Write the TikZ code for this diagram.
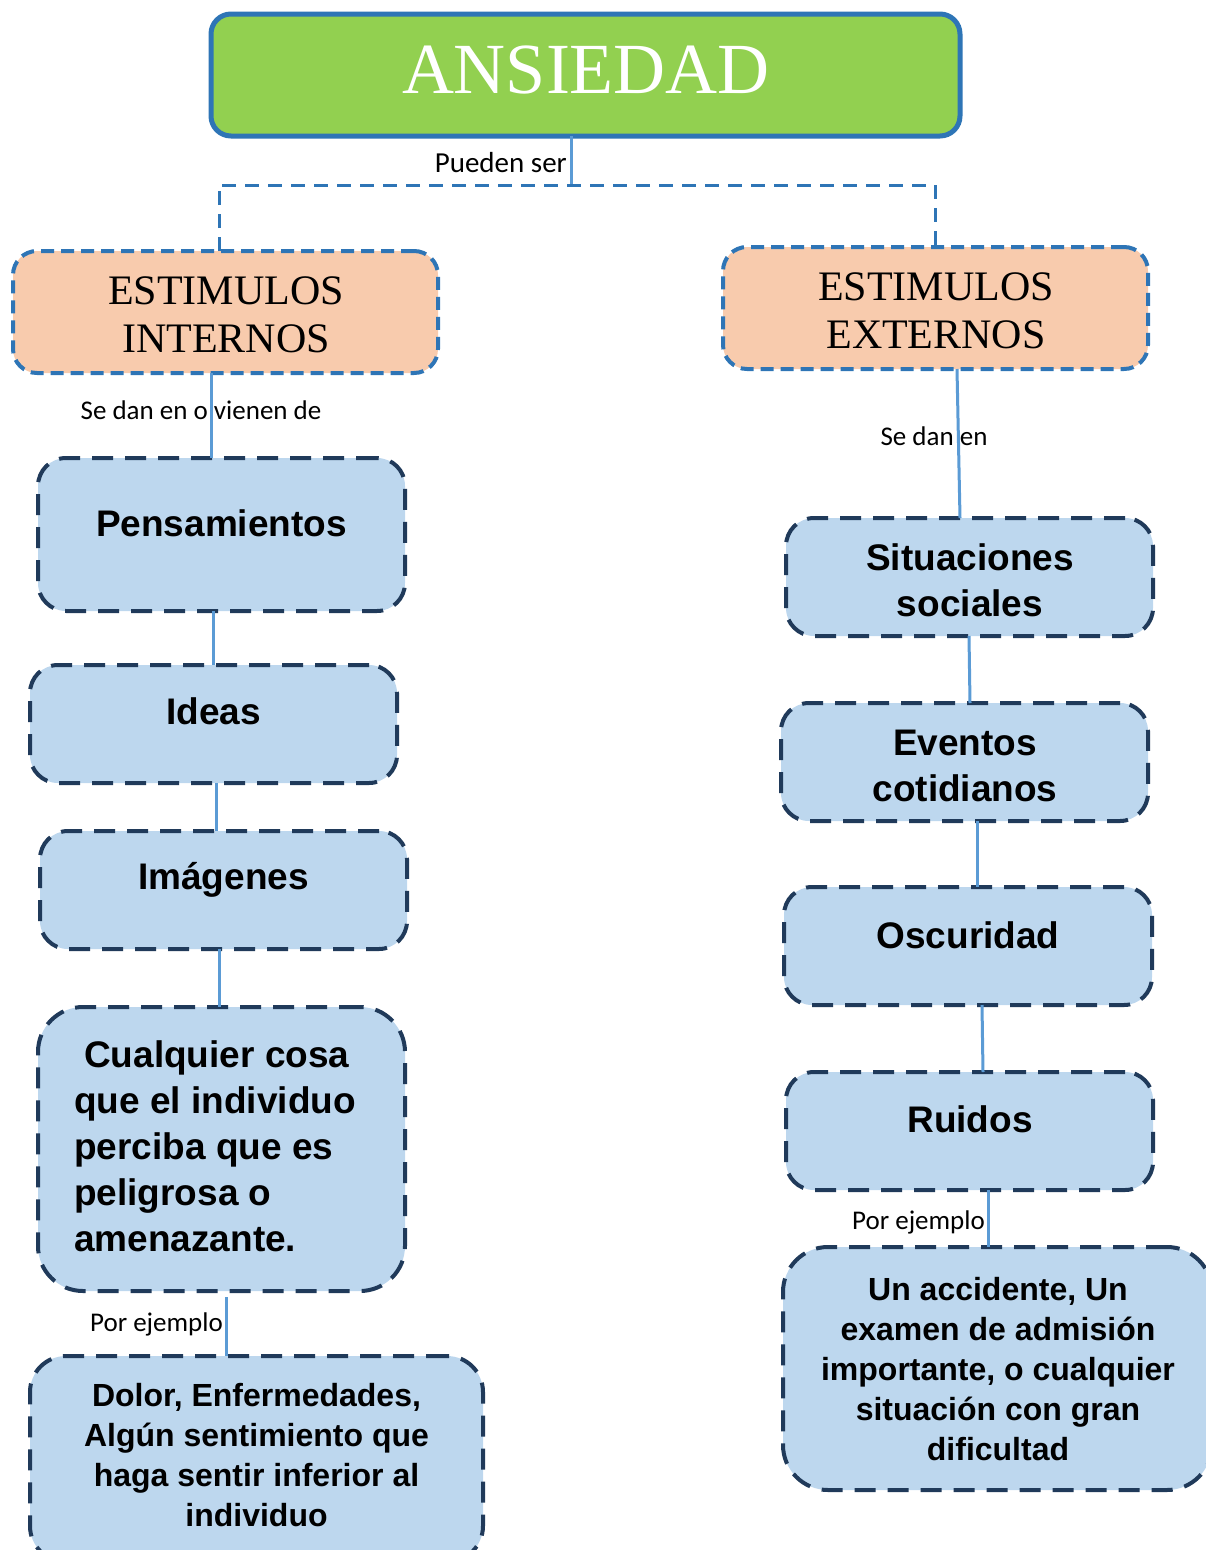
\documentclass[tikz,border=0pt]{standalone}
\usepackage{fontspec}
\setmainfont{Liberation Sans}
\newfontfamily\labfont{Carlito}
\newfontfamily\serfont{Liberation Serif}
\definecolor{titlegreen}{HTML}{92D050}
\definecolor{titleblue}{HTML}{2E75B6}
\definecolor{peach}{HTML}{F8CBAD}
\definecolor{lightbox}{HTML}{BDD7EE}
\definecolor{navy}{HTML}{203A5A}
\definecolor{conn}{HTML}{5B9BD5}
\tikzset{
  titlebox/.style={draw=titleblue, line width=5pt, fill=titlegreen, rounded corners=20pt, inner sep=0pt, outer sep=0pt},
  peachbox/.style={draw=titleblue, line width=4pt, dash pattern=on 13pt off 7pt, fill=peach, rounded corners=24pt, inner sep=0pt, outer sep=0pt},
  bluebox/.style={draw=navy, line width=4pt, dash pattern=on 21pt off 12pt, fill=lightbox, rounded corners=28pt, inner sep=0pt, outer sep=0pt},
  conn/.style={draw=conn, line width=3pt},
  tconn/.style={draw=titleblue, line width=3pt, dash pattern=on 14pt off 9pt},
  bigtxt/.style={font=\bfseries\fontsize{37}{46}\selectfont, align=center, inner sep=0pt},
  midtxt/.style={font=\bfseries\fontsize{32}{40}\selectfont, align=center, inner sep=0pt},
  headtxt/.style={font=\serfont\fontsize{42}{48}\selectfont, align=center, inner sep=0pt},
  labtxt/.style={font=\labfont\fontsize{27}{30}\selectfont, inner sep=0pt},
}
\begin{document}
\begin{tikzpicture}[x=1pt,y=-1pt]
\useasboundingbox (0,0) rectangle (1206,1550);
\clip (0,0) rectangle (1206,1550);
% title
\node[titlebox, minimum width=749pt, minimum height=122pt] (ans) at (585.5,75) {};
\node[font=\serfont\fontsize{72}{80}\selectfont, text=white, inner sep=0pt] (anst) at (586,70) {ANSIEDAD};
% header boxes
\node[peachbox, minimum width=425pt, minimum height=122pt] (int) at (225.5,312) {};
\node[headtxt] (intt) at (226,315) {ESTIMULOS\\INTERNOS};
\node[peachbox, minimum width=425pt, minimum height=122pt] (ext) at (935.5,308) {};
\node[headtxt] (extt) at (936,311) {ESTIMULOS\\EXTERNOS};
% connectors from title
\coordinate (jn) at (571,185);
\coordinate (jl) at (219,185);
\coordinate (jr) at (935,185);
\draw[conn] ([xshift=-14.5pt]ans.south) -- (jn);
\draw[tconn] (jl |- int.north) -- (jl) -- (jr) -- (jr |- ext.north);
\node[labtxt, font=\labfont\fontsize{29}{32}\selectfont, anchor=east] (lpueden) at (567,163) {Pueden ser};
% left column
\node[bluebox, minimum width=367pt, minimum height=153pt] (pens) at (221.5,534.5) {};
\node[bigtxt] (penst) at (221.5,523) {Pensamientos};
\node[bluebox, minimum width=367pt, minimum height=118pt] (ideas) at (213.5,724) {};
\node[bigtxt] (ideast) at (213.5,711) {Ideas};
\node[bluebox, minimum width=367pt, minimum height=118pt] (imag) at (223.5,890) {};
\node[bigtxt] (imagt) at (223.5,880) {Imágenes};
\node[bluebox, rounded corners=45pt, minimum width=367pt, minimum height=284pt] (cual) at (221.5,1149) {};
\node[bigtxt, align=left, anchor=west] (cualt) at (74,1146) {\hspace*{10pt}Cualquier cosa\\que el individuo\\perciba que es\\peligrosa o\\amenazante.};
\node[bluebox, rounded corners=36pt, minimum width=453pt, minimum height=206pt] (dolor) at (256.5,1459) {};
\node[midtxt] (dolort) at (256.5,1455) {Dolor, Enfermedades,\\Algún sentimiento que\\haga sentir inferior al\\individuo};
% right column
\node[bluebox, minimum width=367pt, minimum height=118pt] (situ) at (969.5,577) {};
\node[bigtxt] (situt) at (970,580) {Situaciones\\sociales};
\node[bluebox, minimum width=367pt, minimum height=118pt] (event) at (964.5,762) {};
\node[bigtxt] (eventt) at (965,766) {Eventos\\cotidianos};
\node[bluebox, minimum width=368pt, minimum height=118pt] (osc) at (968,946) {};
\node[bigtxt] (osct) at (968,935) {Oscuridad};
\node[bluebox, minimum width=367pt, minimum height=118pt] (ruid) at (969.5,1131) {};
\node[bigtxt] (ruidt) at (970,1119) {Ruidos};
\node[bluebox, rounded corners=45pt, minimum width=429pt, minimum height=243pt] (acc) at (997.5,1368.5) {};
\node[midtxt] (acct) at (998,1369) {Un accidente, Un\\examen de admisión\\importante, o cualquier\\situación con gran\\dificultad};
% connectors
\draw[conn] ([xshift=-14.5pt]int.south) -- ([xshift=-10.5pt]pens.north);
\draw[conn] ([xshift=21.5pt]ext.south) -- ([xshift=-9.5pt]situ.north);
\draw[conn] ([xshift=-8.5pt]pens.south) -- ([xshift=-0.5pt]ideas.north);
\draw[conn] ([xshift=2.5pt]ideas.south) -- ([xshift=-7.5pt]imag.north);
\draw[conn] ([xshift=-4.5pt]imag.south) -- ([xshift=-2.5pt]cual.north);
\draw[conn] ([xshift=4.5pt,yshift=-6pt]cual.south) -- ([xshift=-30.5pt]dolor.north);
\draw[conn] ([xshift=-0.5pt]situ.south) -- ([xshift=5.5pt]event.north);
\draw[conn] ([xshift=12.5pt]event.south) -- ([xshift=9pt]osc.north);
\draw[conn] ([xshift=14pt]osc.south) -- ([xshift=13.5pt]ruid.north);
\draw[conn] ([xshift=18.5pt]ruid.south) -- ([xshift=-9.5pt]acc.north);
% labels
\node[labtxt] (lint) at (201,410) {Se dan en o vienen de};
\node[labtxt] (lext) at (934,436) {Se dan en};
\node[labtxt, anchor=east] (lej1) at (223,1324) {Por ejemplo};
\node[labtxt, anchor=east] (lej2) at (985,1222) {Por ejemplo};
\end{tikzpicture}
\end{document}
